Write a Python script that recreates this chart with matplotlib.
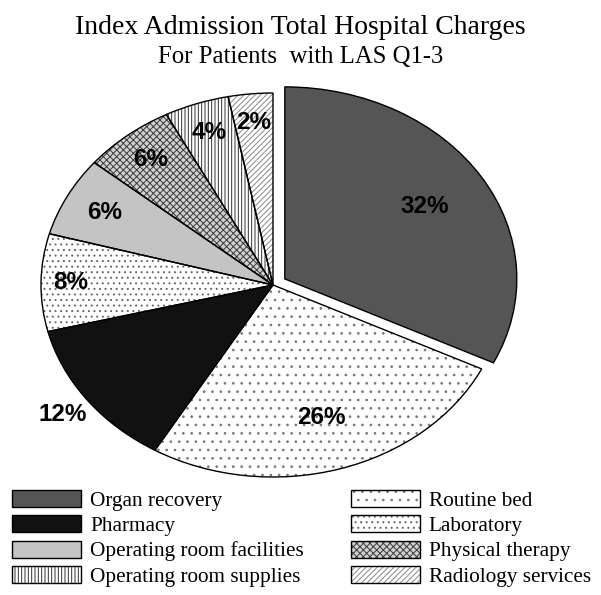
import numpy as np
import matplotlib
matplotlib.use("Agg")
import matplotlib.pyplot as plt
from matplotlib.patches import Patch

# slice data (clockwise from 12 o'clock)
categories = ["Organ recovery", "Routine bed", "Pharmacy", "Laboratory",
              "Operating room facilities", "Physical therapy",
              "Operating room supplies", "Radiology services"]
values = [32.2, 26.3, 12.6, 8.2, 6.7, 6.4, 4.5, 3.1]
pct_labels = ["32%", "26%", "12%", "8%", "6%", "6%", "4%", "2%"]

# styling
faces = ["#555555", "white", "#111111", "white", "#c4c4c4", "#d0d0d0", "white", "white"]
hatches = [None, "..", None, "...", None, "xxxxx", "|||||", "//////"]
hatch_cols = ["#555555", "#777777", "#111111", "#666666", "#c4c4c4", "#3a3a3a", "#333333", "#888888"]
explode = [0.06, 0, 0, 0, 0, 0, 0, 0]
label_r = [0.71, 0.72, 1.13, 0.87, 0.82, 0.84, 0.84, 0.85]

plt.rcParams["hatch.linewidth"] = 0.7

fig = plt.figure(figsize=(6.01, 5.95), dpi=100)
W, H = 601, 595
# pie axes: ellipse rx=232px, ry=192px centred at (273, 285) from top
xl, xr, yb, yt = -1.15, 1.25, -1.1, 1.2
ax = fig.add_axes([(273 + xl * 232) / W, (H - 285 + yb * 192) / H,
                   (xr - xl) * 232 / W, (yt - yb) * 192 / H])

wedges, _ = ax.pie(values, explode=explode, startangle=90, counterclock=False,
                   colors=faces, wedgeprops=dict(linewidth=0))
for w, h, hc in zip(wedges, hatches, hatch_cols):
    if h:
        w.set_hatch(h)
    w.set_edgecolor(hc)
outl, _ = ax.pie(values, explode=explode, startangle=90, counterclock=False,
                 wedgeprops=dict(fill=False, edgecolor="black", linewidth=1.0))
ax.set_aspect("auto")
ax.set_xlim(xl, xr)
ax.set_ylim(yb, yt)

for w, lab, r in zip(wedges, pct_labels, label_r):
    ang = np.deg2rad((w.theta1 + w.theta2) / 2)
    cx, cy = w.center
    ax.text(cx + r * np.cos(ang), cy + r * np.sin(ang), lab, ha="center", va="center",
            fontsize=17.5, fontweight="bold", family="Liberation Sans", color="black")

fig.text(0.5, 1 - 34 / H, "Index Admission Total Hospital Charges", ha="center", va="baseline",
         fontsize=20, family="Liberation Serif")
fig.text(0.5, 1 - 63 / H, "For Patients  with LAS Q1-3", ha="center", va="baseline",
         fontsize=17.8, family="Liberation Serif")

handles = []
for f, h, hc in zip(faces, hatches, hatch_cols):
    p1 = Patch(facecolor=f, edgecolor=hc, hatch=h, linewidth=0)
    p2 = Patch(facecolor="none", edgecolor="black", linewidth=1.0)
    handles.append((p1, p2))
order = [0, 2, 4, 6, 1, 3, 5, 7]
leg = fig.legend([handles[i] for i in order], [categories[i] for i in order],
                 ncol=2, loc="upper left", bbox_to_anchor=(12 / W, 1 - 490 / H),
                 frameon=False, prop=dict(family="Liberation Serif", size=15.3),
                 handlelength=3.25, handleheight=0.85, handletextpad=0.42,
                 columnspacing=2.22, labelspacing=0.21, borderpad=0, borderaxespad=0)

fig.savefig("out.png", dpi=100)
